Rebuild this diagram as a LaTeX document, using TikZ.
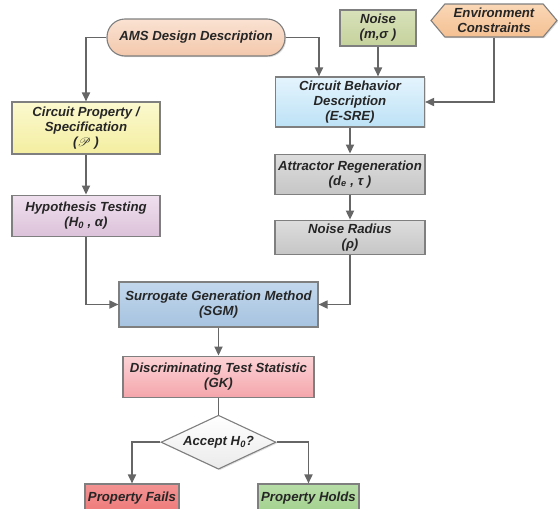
\documentclass[tikz,border=0pt]{standalone}
\usepackage{fontspec}
\setmainfont{Liberation Sans}
\usepackage{mathrsfs}
\usepackage{xcolor}
\definecolor{edge}{HTML}{7F7F7F}
\definecolor{wire}{HTML}{666666}
\definecolor{ink}{HTML}{262626}
\definecolor{amsTop}{HTML}{FAE2D2}
\definecolor{amsBot}{HTML}{F3C8AC}
\definecolor{noiseTop}{HTML}{D8E1BA}
\definecolor{noiseBot}{HTML}{C6D29C}
\definecolor{envTop}{HTML}{FAD7B6}
\definecolor{envBot}{HTML}{F4C092}
\definecolor{cbdTop}{HTML}{E4F4FD}
\definecolor{cbdBot}{HTML}{BDE2F6}
\definecolor{greyTop}{HTML}{DDDDDD}
\definecolor{greyBot}{HTML}{C6C6C6}
\definecolor{specTop}{HTML}{FBF9CF}
\definecolor{specBot}{HTML}{F4EEA0}
\definecolor{hypTop}{HTML}{EFE0EE}
\definecolor{hypBot}{HTML}{DCC2DA}
\definecolor{sgmTop}{HTML}{C2D7EC}
\definecolor{sgmBot}{HTML}{A6C3E0}
\definecolor{gkTop}{HTML}{FCD3D6}
\definecolor{gkBot}{HTML}{F4A6AC}
\definecolor{failTop}{HTML}{F39393}
\definecolor{failBot}{HTML}{EE7A7A}
\definecolor{holdTop}{HTML}{B7DDA7}
\definecolor{holdBot}{HTML}{A3D18F}
\usepackage{tikz}
\usetikzlibrary{arrows.meta,positioning,shapes.geometric,shapes.symbols,shadows}
\tikzset{
  base/.style  = {rectangle, draw=edge, line width=1.1pt, text=ink,
                  align=center, inner sep=2pt,
                  font=\bfseries\itshape\fontsize{13.2}{15}\selectfont,
                  drop shadow={shadow xshift=1.2pt, shadow yshift=-1.2pt,
                               opacity=0.25}},
  startbox/.style = {base, rounded corners=18pt, top color=amsTop, bottom color=amsBot},
  noisebox/.style = {base, top color=noiseTop, bottom color=noiseBot},
  envbox/.style = {base, shape=signal, signal to=west and east,
                  signal pointer angle=100, top color=envTop, bottom color=envBot},
  bluebox/.style = {base, top color=cbdTop, bottom color=cbdBot},
  greybox/.style = {base, top color=greyTop, bottom color=greyBot},
  specbox/.style = {base, top color=specTop, bottom color=specBot},
  hypbox/.style = {base, top color=hypTop, bottom color=hypBot},
  sgmbox/.style = {base, top color=sgmTop, bottom color=sgmBot},
  gkbox/.style = {base, top color=gkTop, bottom color=gkBot},
  decbox/.style = {base, shape=diamond, aspect=2.1, inner sep=0pt,
                  top color=white, bottom color=black!8},
  failbox/.style = {base, top color=failTop, bottom color=failBot},
  holdbox/.style = {base, top color=holdTop, bottom color=holdBot},
  arr/.style   = {-{Triangle[length=9pt,width=8pt]}, line width=1.7pt, draw=wire},
  line/.style  = {line width=1.7pt, draw=wire}
}

\begin{document}
\begin{tikzpicture}[x=1pt, y=-1pt]
  \useasboundingbox (0,0) rectangle (558,509);
  \node[startbox, minimum width=178pt, minimum height=37pt] (ams) at (196,37.5)
    {AMS Design Description};
  \node[noisebox, minimum width=76pt, minimum height=36pt] (noise) at (378,28)
    {Noise\\(m,σ )};
  \node[envbox, minimum width=126pt, minimum height=33pt] (env) at (494,20.5)
    {Environment\\Constraints};
  \node[bluebox, minimum width=149pt, minimum height=50pt] (cbd) at (350,102)
    {Circuit Behavior\\Description\\(E-SRE)};
  \node[greybox, minimum width=150pt, minimum height=40pt, below=26pt of cbd] (attr)
    {Attractor Regeneration\\(d\textsubscript{e} , τ )};
  \node[greybox, minimum width=150pt, minimum height=34pt, below=25pt of attr] (radius)
    {Noise Radius\\(ρ)};
  \node[specbox, minimum width=148pt, minimum height=52pt] (cps) at (86,128)
    {Circuit Property /\\Specification\\($\mathscr{P}$ )};
  \node[hypbox, minimum width=148pt, minimum height=41pt, below=40pt of cps] (ht)
    {Hypothesis Testing\\(H\textsubscript{0} , α)};
  \node[sgmbox, minimum width=199pt, minimum height=45pt] (sgm) at (218.5,304.5)
    {Surrogate Generation Method\\(SGM)};
  \node[gkbox, minimum width=191pt, minimum height=41pt, below=28pt of sgm] (gk)
    {Discriminating Test Statistic\\(GK)};
  \node[decbox, minimum width=115pt, minimum height=54pt, below=17pt of gk] (dec)
    {Accept H\textsubscript{0}?};
  \node[failbox, minimum width=94pt, minimum height=28pt] (fail) at (132,498)
    {Property Fails};
  \node[holdbox, minimum width=101pt, minimum height=28pt] (hold) at (308.5,498)
    {Property Holds};
  \draw[arr] (ams.west) -| (cps.north);
  \draw[arr] (ams.east) -| ([xshift=-31pt]cbd.north);
  \draw[arr] (noise.south) -- (noise.south |- cbd.north);
  \draw[arr] (env.south) |- (cbd.east);
  \draw[arr] (cbd) -- (attr);
  \draw[arr] (attr) -- (radius);
  \draw[arr] (radius.south) |- (sgm.east);
  \draw[arr] (cps) -- (ht);
  \draw[arr] (ht.south) |- (sgm.west);
  \draw[arr] (sgm) -- (gk);
  \draw[line] (gk) -- (dec);
  \draw[arr] (dec.west) -| (fail.north);
  \draw[arr] (dec.east) -| (hold.north);
\end{tikzpicture}
\end{document}
